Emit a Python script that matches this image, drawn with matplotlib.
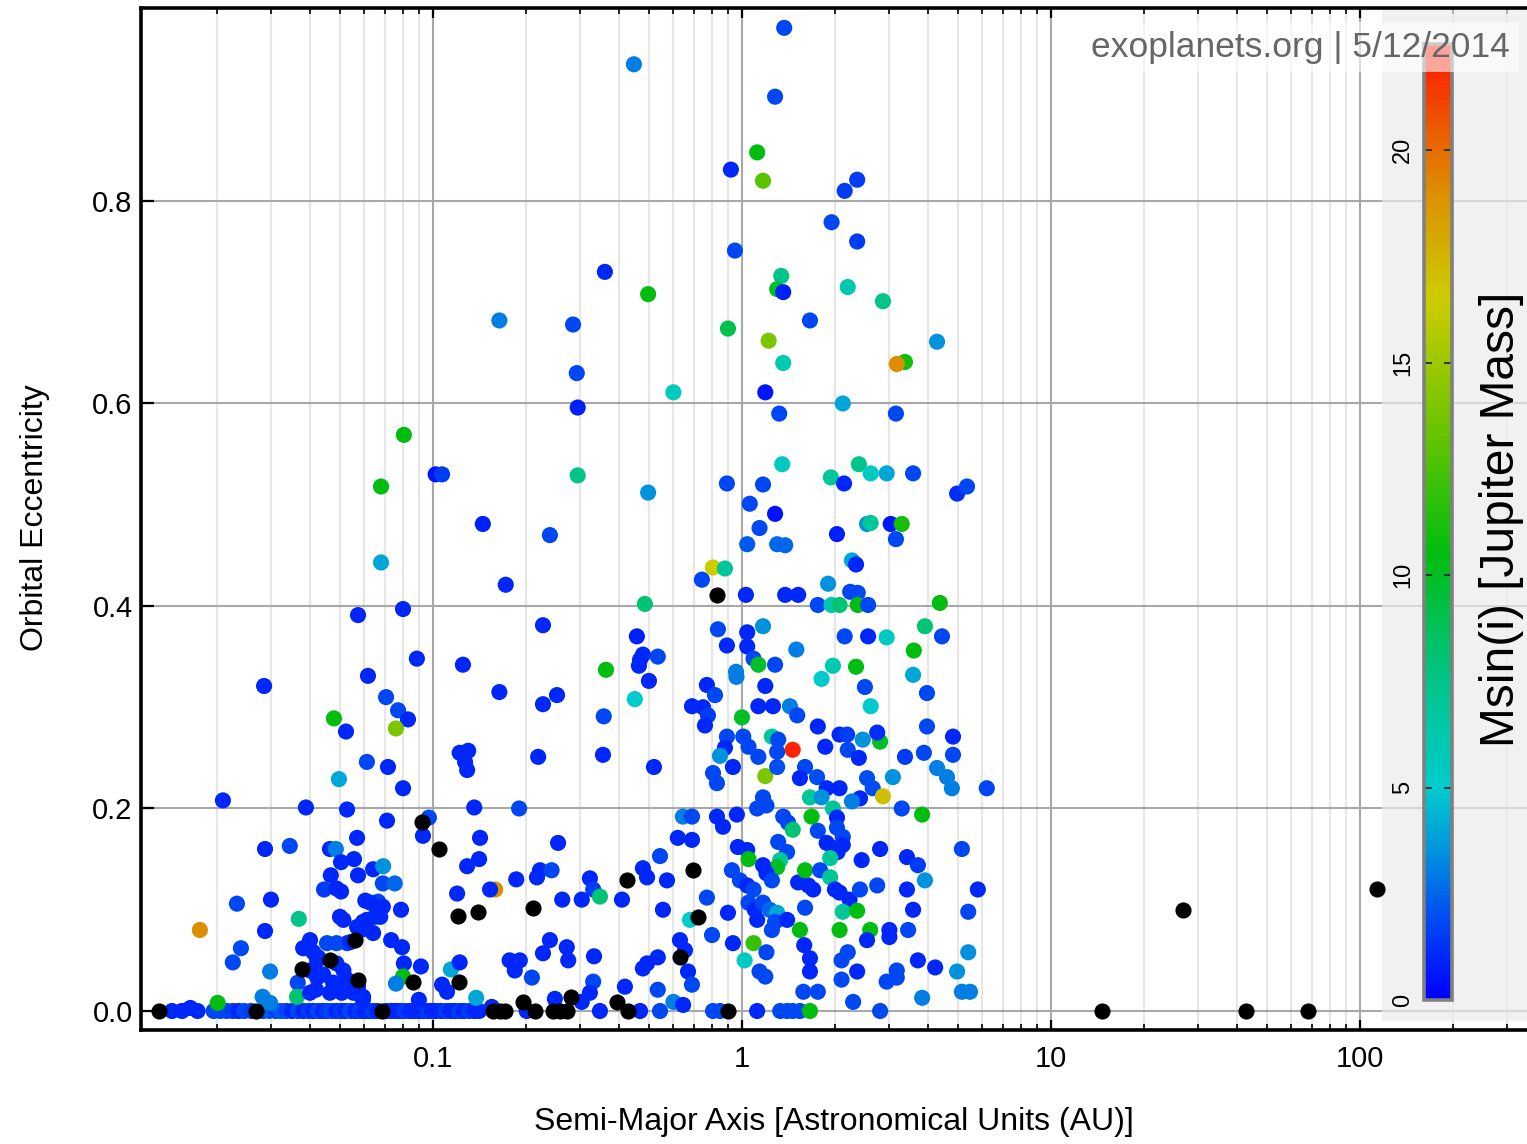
import numpy as np
import matplotlib
matplotlib.use("Agg")
import matplotlib.pyplot as plt
from matplotlib.colors import LinearSegmentedColormap, Normalize
from matplotlib.ticker import FixedLocator, LogLocator, NullFormatter, FixedFormatter
from matplotlib.patches import Rectangle

plt.rcParams['font.family'] = ['Liberation Sans', 'DejaVu Sans']

nan = float('nan')

# ---- planets with e >= ~0.44 -------------------------------------------
a_high = [1.37, 0.447, 1.28, 1.12, 0.921, 1.17, 2.36, 2.15, 1.95, 2.36,
          0.949, 0.360, 1.34, 1.30, 1.36, 0.497, 2.20, 2.86, 0.164, 0.284,
          1.66, 0.901, 1.22, 4.28, 1.36, 3.37, 3.17, 0.292, 0.600, 1.19,
          0.294, 1.32, 2.12, 3.15, 1.35, 0.294, 0.497, 0.894, 1.17, 1.06,
          1.28, 1.14, 1.04, 1.30, 1.38, 0.239, 1.94, 2.14, 2.39, 2.61,
          2.94, 3.58, 4.97, 5.35, 2.03, 2.54, 2.61, 3.03, 3.29, 3.15,
          2.27, 2.34, 0.805, 0.881, 0.0805, 0.102, 0.107, 0.0679, 0.145, 0.0679]
e_high = [0.971, 0.935, 0.903, 0.848, 0.831, 0.820, 0.821, 0.810, 0.779, 0.760,
          0.751, 0.730, 0.726, 0.713, 0.710, 0.708, 0.715, 0.701, 0.682, 0.678,
          0.682, 0.674, 0.662, 0.661, 0.640, 0.641, 0.639, 0.630, 0.611, 0.611,
          0.596, 0.590, 0.600, 0.590, 0.540, 0.529, 0.512, 0.521, 0.520, 0.501,
          0.491, 0.477, 0.461, 0.461, 0.460, 0.470, 0.527, 0.521, 0.540, 0.531,
          0.531, 0.531, 0.511, 0.518, 0.471, 0.481, 0.482, 0.481, 0.481, 0.466,
          0.445, 0.441, 0.438, 0.437, 0.569, 0.530, 0.530, 0.518, 0.481, 0.443]
m_high = [1.8, 3.0, 1.8, 10.5, 1.0, 13.0, 1.5, 1.5, 1.8, 1.5,
          1.8, 1.0, 7.5, 10.0, 0.8, 10.5, 6.0, 7.5, 3.0, 1.8,
          1.8, 9.0, 14.0, 3.5, 6.0, 11.0, 19.0, 1.8, 5.5, 0.6,
          0.8, 1.8, 4.0, 1.8, 5.5, 7.5, 3.5, 1.8, 1.8, 1.8,
          0.5, 1.8, 2.2, 2.5, 2.5, 1.8, 7.0, 1.0, 7.5, 5.5,
          4.0, 1.8, 1.2, 1.8, 0.8, 3.5, 7.0, 0.7, 11.0, 1.8,
          4.0, 1.0, 16.5, 7.0, 10.5, 0.6, 1.5, 10.5, 0.8, 4.0]

# ---- short-period planets (a < ~0.2 AU), eccentric -----------------------
a_inner = [0.172, 0.0572, 0.080, 0.0887, 0.125, 0.0284, 0.0616, 0.164, 0.0705, 0.0771,
           0.083, 0.0478, 0.0759, 0.0523, 0.122, 0.130, 0.127, 0.129, 0.0611, 0.0715,
           0.0496, 0.080, 0.0209, 0.0388, 0.0527, 0.136, 0.0710, 0.092, 0.097, 0.0928,
           0.0568, 0.142, 0.1045, 0.0286, 0.0344, 0.0464, 0.0485, 0.0555, 0.141, 0.0504,
           0.129, 0.064, 0.069, 0.0467, 0.0572, 0.0444, 0.0487, 0.0504, 0.0688, 0.0752,
           0.1197, 0.159, 0.153, 0.0232, 0.0299, 0.0604, 0.0664, 0.0688, 0.0627, 0.0788,
           0.1205, 0.140, 0.0368, 0.0176, 0.0286, 0.050, 0.0513, 0.0568, 0.0594, 0.0611,
           0.0648, 0.064, 0.0732, 0.0794, 0.040, 0.038, 0.041, 0.0454, 0.0487, 0.0527,
           0.054, 0.056, 0.0239, 0.0225, 0.0297, 0.0464, 0.0377, 0.0422, 0.040, 0.0441,
           0.0487, 0.0513, 0.0527, 0.0805, 0.0914, 0.0572, 0.0572, 0.0594, 0.080, 0.0759,
           0.086, 0.1143, 0.122, 0.121, 0.107, 0.111, 0.0365, 0.0363, 0.0281, 0.0297,
           0.040, 0.0418, 0.0464, 0.0487, 0.0507, 0.0201, 0.090, 0.138, 0.155, 0.0675,
           0.0585, 0.0425, 0.0422, 0.0475, 0.0553, 0.0593]
e_inner = [0.421, 0.391, 0.397, 0.348, 0.342, 0.321, 0.331, 0.315, 0.310, 0.297,
           0.288, 0.289, 0.279, 0.276, 0.255, 0.257, 0.246, 0.238, 0.246, 0.241,
           0.229, 0.220, 0.208, 0.201, 0.199, 0.201, 0.188, 0.187, 0.191, 0.173,
           0.171, 0.171, 0.160, 0.160, 0.163, 0.160, 0.160, 0.150, 0.150, 0.147,
           0.143, 0.140, 0.143, 0.134, 0.134, 0.120, 0.121, 0.118, 0.126, 0.126,
           0.116, 0.120, 0.120, 0.106, 0.110, 0.109, 0.108, 0.103, 0.107, 0.100,
           0.094, 0.098, 0.091, 0.080, 0.079, 0.093, 0.090, 0.083, 0.088, 0.090,
           0.093, 0.077, 0.070, 0.063, 0.070, 0.062, 0.058, 0.067, 0.067, 0.067,
           0.068, 0.070, 0.062, 0.048, 0.039, 0.050, 0.041, 0.050, 0.040, 0.036,
           0.047, 0.040, 0.031, 0.047, 0.044, 0.031, 0.024, 0.014, 0.034, 0.027,
           0.029, 0.041, 0.048, 0.029, 0.026, 0.019, 0.028, 0.014, 0.014, 0.008,
           0.018, 0.021, 0.018, 0.021, 0.018, 0.008, 0.011, 0.013, 0.004, 0.093,
           0.080, 0.053, 0.033, 0.028, 0.018, 0.011]
m_inner = [1.0, 1.0, 1.0, 1.0, 1.0, 1.0, 1.0, 1.0, 1.8, 1.8,
           1.0, 10.5, 14.0, 1.0, 1.0, 1.0, 1.0, 1.0, 1.8, 1.0,
           4.0, 1.0, 1.0, 1.0, 1.0, 1.0, 1.0, nan, 1.8, 1.0,
           1.0, 1.0, nan, 1.0, 1.8, 1.0, 3.0, 1.0, 1.0, 1.0,
           1.0, 1.0, 3.5, 1.0, 1.0, 1.5, 1.0, 1.0, 1.8, 2.5,
           1.0, 19.0, 1.0, 1.8, 1.0, 1.0, 1.8, 1.0, 1.0, 1.0,
           nan, nan, 7.5, 19.0, 1.0, 1.0, 1.0, 1.0, 1.0, 1.0,
           1.0, 1.0, 1.0, 1.0, 1.0, 1.0, 1.0, 1.8, 1.8, 1.8,
           1.0, nan, 1.8, 1.8, 3.0, nan, nan, 1.0, 1.0, 1.0,
           1.0, 1.0, 1.0, 1.0, 1.0, nan, 1.0, 1.0, 10.5, 3.0,
           nan, 4.0, 1.0, nan, 1.0, 1.0, 1.8, 8.0, 3.0, 3.0,
           1.0, 1.0, 1.0, 1.0, 1.0, 10.5, 1.0, 4.0, 1.0, 1.0,
           1.0, 1.0, 1.0, 1.0, 1.0, 1.0]

# ---- planets beyond ~0.17 AU with e < ~0.43 -----------------------------
a_outer = [0.742, 0.830, 1.03, 1.38, 1.52, 2.24, 2.37, 0.485, 1.76, 1.95,
           2.07, 2.37, 2.56, 4.37, 1.90, 0.227, 0.457, 0.836, 1.04, 1.04,
           1.17, 0.894, 2.15, 2.56, 2.94, 3.91, 4.44, 3.60, 0.478, 0.468,
           0.534, 0.464, 0.363, 1.50, 1.09, 1.13, 1.28, 0.957, 0.960, 1.97,
           2.34, 1.81, 3.58, 2.50, 2.61, 3.97, 0.500, 0.252, 0.227, 0.450,
           0.357, 0.770, 0.818, 1.19, 0.689, 0.748, 0.776, 0.759, 1.13, 1.26,
           1.43, 1.51, 1.00, 1.76, 2.07, 2.19, 2.46, 2.80, 2.74, 3.97,
           4.82, 4.82, 3.88, 3.37, 0.894, 1.01, 0.881, 1.05, 0.849, 1.13,
           1.25, 1.31, 1.30, 1.46, 1.86, 2.20, 2.39, 0.219, 0.355, 0.519,
           0.935, 0.806, 0.830, 1.19, 1.30, 1.60, 1.54, 1.75, 1.88, 2.07,
           2.54, 2.65, 2.41, 3.08, 2.86, 4.28, 4.61, 4.78, 6.20, 1.66,
           1.81, 1.17, 1.12, 1.20, 1.97, 2.27, 3.29, 3.83, 1.68, 0.190,
           0.644, 0.689, 0.830, 0.868, 0.963, 1.36, 1.41, 1.46, 2.03, 2.03,
           2.12, 1.76, 0.620, 0.689, 0.254, 1.31, 1.40, 1.88, 1.97, 2.12,
           2.04, 2.80, 5.15, 0.970, 1.04, 1.05, 1.33, 1.30, 1.93, 2.44,
           3.42, 3.71, 0.543, 0.694, 0.424, 0.211, 0.630, 0.720, 0.222, 0.217,
           0.242, 0.186, 0.322, 0.330, 0.347, 0.262, 0.303, 0.409, 0.478, 0.493,
           0.572, 0.555, 0.770, 0.679, 0.901, 0.928, 0.985, 1.04, 1.09, 1.05,
           1.10, 1.17, 1.20, 1.25, 1.17, 1.23, 1.30, 1.12, 1.28, 1.40,
           1.25, 1.52, 1.64, 1.70, 1.60, 1.79, 1.93, 2.00, 2.07, 2.23,
           2.41, 2.74, 3.42, 5.80, 3.91, 1.60, 2.12, 2.36, 3.58, 5.40,
           1.54, 2.07, 2.60, 2.54, 3.00, 3.00, 3.45, 1.59, 1.66, 1.66,
           1.09, 1.20, 1.02, 1.14, 1.19, 2.20, 2.10, 2.10, 2.36, 2.94,
           3.17, 3.17, 3.71, 4.22, 4.97, 5.40, 0.935, 0.800, 0.630, 0.654,
           0.669, 0.689, 0.534, 0.478, 0.493, 0.534, 0.418, 0.332, 0.330, 0.271,
           0.274, 0.239, 0.227, 0.177, 0.191, 0.184, 0.209, 0.195, 0.280, 0.394,
           0.248, 0.303, 0.322, 0.600, 0.645, 2.29, 3.83, 5.15, 5.47, 1.58,
           1.76, 26.7, 113.5]
e_outer = [0.426, 0.411, 0.411, 0.411, 0.411, 0.414, 0.413, 0.402, 0.401, 0.401,
           0.401, 0.401, 0.401, 0.403, 0.422, 0.381, 0.370, 0.377, 0.374, 0.360,
           0.380, 0.361, 0.370, 0.370, 0.369, 0.380, 0.370, 0.356, 0.352, 0.347,
           0.350, 0.341, 0.337, 0.357, 0.348, 0.342, 0.342, 0.335, 0.330, 0.341,
           0.340, 0.328, 0.332, 0.320, 0.301, 0.314, 0.326, 0.312, 0.303, 0.308,
           0.291, 0.322, 0.312, 0.321, 0.301, 0.300, 0.292, 0.282, 0.301, 0.301,
           0.301, 0.292, 0.290, 0.281, 0.273, 0.273, 0.268, 0.266, 0.275, 0.281,
           0.271, 0.253, 0.255, 0.251, 0.271, 0.271, 0.260, 0.261, 0.252, 0.251,
           0.271, 0.268, 0.256, 0.258, 0.261, 0.258, 0.250, 0.251, 0.253, 0.241,
           0.241, 0.235, 0.225, 0.232, 0.241, 0.241, 0.230, 0.231, 0.220, 0.220,
           0.230, 0.220, 0.210, 0.231, 0.212, 0.240, 0.231, 0.220, 0.220, 0.211,
           0.211, 0.211, 0.200, 0.203, 0.200, 0.207, 0.200, 0.194, 0.192, 0.200,
           0.192, 0.192, 0.192, 0.182, 0.194, 0.192, 0.186, 0.179, 0.191, 0.181,
           0.172, 0.178, 0.171, 0.169, 0.166, 0.167, 0.157, 0.166, 0.161, 0.164,
           0.157, 0.160, 0.160, 0.162, 0.159, 0.150, 0.149, 0.142, 0.151, 0.149,
           0.152, 0.144, 0.153, 0.139, 0.129, 0.102, 0.053, 0.093, 0.139, 0.132,
           0.139, 0.130, 0.131, 0.120, 0.113, 0.110, 0.110, 0.110, 0.141, 0.132,
           0.129, 0.100, 0.112, 0.090, 0.097, 0.139, 0.129, 0.124, 0.120, 0.107,
           0.100, 0.144, 0.136, 0.129, 0.107, 0.100, 0.097, 0.090, 0.088, 0.090,
           0.080, 0.127, 0.124, 0.120, 0.139, 0.139, 0.132, 0.120, 0.117, 0.110,
           0.120, 0.124, 0.120, 0.120, 0.129, 0.102, 0.098, 0.099, 0.100, 0.098,
           0.080, 0.080, 0.080, 0.070, 0.080, 0.073, 0.080, 0.065, 0.052, 0.039,
           0.067, 0.058, 0.050, 0.039, 0.034, 0.058, 0.050, 0.031, 0.039, 0.029,
           0.040, 0.033, 0.050, 0.043, 0.039, 0.058, 0.067, 0.075, 0.070, 0.060,
           0.039, 0.026, 0.021, 0.042, 0.047, 0.053, 0.024, 0.054, 0.029, 0.063,
           0.050, 0.070, 0.057, 0.050, 0.050, 0.040, 0.033, 0.009, 0.014, 0.009,
           0.012, 0.009, 0.018, 0.009, 0.006, 0.009, 0.013, 0.019, 0.019, 0.019,
           0.019, 0.100, 0.120]
m_outer = [1.8, nan, 1.0, 1.0, 1.0, 1.8, 1.8, 8.0, 1.8, 6.0,
           8.0, 10.5, 1.8, 10.5, 3.5, 1.0, 0.8, 1.8, 1.0, 1.0,
           3.5, 1.0, 1.8, 1.0, 5.5, 8.0, 1.8, 10.5, 1.0, 1.0,
           1.8, 1.0, 10.5, 3.0, 1.8, 10.0, 1.8, 3.0, 3.0, 6.0,
           10.5, 5.0, 4.0, 1.8, 5.0, 1.8, 1.0, 1.0, 1.0, 5.0,
           1.8, 1.0, 1.8, 1.0, 1.0, 1.0, 1.5, 1.0, 1.0, 1.0,
           3.0, 1.8, 10.0, 1.0, 1.0, 1.5, 3.5, 10.0, 1.2, 1.8,
           1.0, 1.8, 1.8, 1.5, 1.8, 1.8, 1.0, 1.8, 3.5, 1.8,
           7.0, 1.8, 1.8, 22.0, 1.0, 1.8, 1.0, 1.0, 1.0, 1.0,
           1.0, 1.8, 1.8, 14.0, 2.0, 1.8, 1.0, 2.0, 1.0, 1.0,
           2.0, 2.0, 1.0, 3.5, 17.0, 3.0, 3.0, 3.0, 1.8, 7.0,
           3.5, 1.8, 1.8, 1.8, 7.0, 3.0, 1.8, 10.5, 10.5, 1.8,
           3.0, 1.8, 1.0, 1.0, 1.0, 1.8, 1.8, 8.0, 1.0, 1.8,
           1.8, 1.8, 1.0, 1.0, 1.0, 1.8, 1.8, 1.0, 1.0, 1.0,
           1.0, 1.0, 1.8, 1.0, 1.0, 10.5, 7.0, 10.0, 7.0, 1.0,
           1.0, 1.5, 1.8, nan, nan, nan, nan, nan, 1.0, 1.0,
           1.8, 1.0, 1.0, 1.5, 8.0, 1.0, 1.0, 1.0, 1.0, 1.0,
           1.0, 1.0, 1.8, 5.0, 1.0, 1.8, 1.8, 1.0, 1.8, 1.8,
           1.0, 1.0, 1.0, 1.8, 1.8, 2.5, 4.0, 1.0, 1.8, 1.0,
           1.8, 1.0, 1.0, 1.0, 10.5, 1.8, 7.0, 1.0, 1.0, 1.0,
           1.8, 1.8, 1.0, 1.0, 3.5, 1.8, 7.0, 10.5, 1.0, 1.8,
           10.5, 10.5, 10.5, 1.0, 1.0, 1.0, 1.8, 1.0, 1.0, 1.0,
           12.0, 1.8, 5.5, 1.8, 1.8, 1.8, 1.8, 1.8, 1.0, 1.8,
           1.8, 1.8, 1.0, 1.0, 3.5, 3.5, 1.0, 1.8, 1.0, 1.0,
           1.0, 1.8, 1.8, 1.0, 1.0, 1.0, 1.0, 1.0, 1.8, 1.0,
           1.0, 1.0, 1.0, 1.0, 1.0, 1.0, 1.8, nan, nan, nan,
           1.0, 1.0, 1.0, 3.0, 1.0, 1.8, 3.0, 3.0, 3.0, 1.8,
           1.8, nan, nan]

# ---- circular orbits (e = 0) ---------------------------------------------
a_circ = [0.013, 0.0143, 0.0154, 0.0164, 0.0173, 0.0195, 0.0205, 0.0215, 0.0225, 0.0235,
          0.0245, 0.0258, 0.0267, 0.0282, 0.0295, 0.031, 0.0322, 0.0335, 0.035, 0.0365,
          0.038, 0.0395, 0.041, 0.0425, 0.044, 0.0455, 0.047, 0.0487, 0.0505, 0.052,
          0.054, 0.056, 0.058, 0.060, 0.062, 0.064, 0.066, 0.0684, 0.071, 0.0735,
          0.076, 0.0785, 0.081, 0.084, 0.087, 0.090, 0.093, 0.096, 0.099, 0.102,
          0.106, 0.110, 0.114, 0.118, 0.122, 0.126, 0.131, 0.136, 0.141, 0.156,
          0.165, 0.171, 0.201, 0.214, 0.245, 0.258, 0.271, 0.347, 0.427, 0.468,
          0.543, 0.806, 0.849, 0.901, 1.12, 1.33, 1.40, 1.46, 1.54, 1.66,
          2.80, 14.6, 42.8, 67.9]
e_circ = [0.0, 0.0, 0.0, 0.003, 0.0, 0.0, 0.0, 0.0, 0.0, 0.0,
          0.0, 0.0, 0.0, 0.0, 0.0, 0.0, 0.0, 0.0, 0.0, 0.0,
          0.0, 0.0, 0.0, 0.0, 0.0, 0.0, 0.0, 0.0, 0.0, 0.0,
          0.0, 0.0, 0.0, 0.0, 0.0, 0.0, 0.0, 0.0, 0.0, 0.0,
          0.0, 0.0, 0.0, 0.0, 0.0, 0.0, 0.0, 0.0, 0.0, 0.0,
          0.0, 0.0, 0.0, 0.0, 0.0, 0.0, 0.0, 0.0, 0.0, 0.0,
          0.0, 0.0, 0.0, 0.0, 0.0, 0.0, 0.0, 0.0, 0.0, 0.0,
          0.0, 0.0, 0.0, 0.0, 0.0, 0.0, 0.0, 0.0, 0.0, 0.0,
          0.0, 0.0, 0.0, 0.0]
m_circ = [nan, 1.0, 1.0, 1.0, 1.0, 1.8, 1.8, 1.8, 1.5, 1.0,
          1.8, 1.5, nan, 1.8, 2.2, 1.8, 2.2, 1.8, 1.0, 1.8,
          1.0, 1.5, 1.0, 1.8, 1.0, 1.5, 1.8, 1.0, 1.5, 1.0,
          1.8, 1.0, 1.5, 1.0, 1.0, 1.5, 1.0, nan, 1.0, 1.0,
          1.0, 1.0, 1.5, 1.0, 1.0, 1.0, 1.0, 1.5, 1.0, 1.0,
          1.0, 1.5, 1.0, 1.0, 1.5, 1.0, 1.5, 1.0, 1.0, nan,
          nan, nan, 1.0, nan, nan, nan, nan, 1.0, nan, 1.0,
          1.8, 1.8, 1.8, nan, 1.0, 1.8, 1.8, 1.8, 1.8, 10.5,
          1.8, nan, nan, nan]

mass_ticks = [0, 5, 10, 15, 20]
x_ticks = [0.1, 1, 10, 100]
x_tick_labels = ['0.1', '1', '10', '100']
y_ticks = [0.0, 0.2, 0.4, 0.6, 0.8]
y_tick_labels = ['0.0', '0.2', '0.4', '0.6', '0.8']

a_all = np.concatenate([a_circ, a_inner, a_outer, a_high])
e_all = np.concatenate([e_circ, e_inner, e_outer, e_high])
m_all = np.concatenate([m_circ, m_inner, m_outer, m_high])
known = np.isfinite(m_all)

cmap = LinearSegmentedColormap.from_list('msini', [
    (0.0, '#0000ff'), (2.0 / 22.5, '#0050f2'), (3.5 / 22.5, '#0095dc'),
    (5.0 / 22.5, '#00cccc'), (7.5 / 22.5, '#00c48a'), (10.5 / 22.5, '#00bd10'),
    (13.5 / 22.5, '#6cc400'), (16.5 / 22.5, '#cccc00'), (19.0 / 22.5, '#dc9000'),
    (21.0 / 22.5, '#ef4a00'), (1.0, '#ff1400')])
norm = Normalize(vmin=0.0, vmax=22.5)

W, H = 1527, 1144
fig = plt.figure(figsize=(W / 100, H / 100), dpi=100)
fig.patch.set_facecolor('white')

ax = fig.add_axes([141 / W, (H - 1030) / H, (1532 - 141) / W, (1030 - 8) / H])
ax.set_xscale('log')
ax.set_xlim(10 ** -1.945, 10 ** 2.557)
ax.set_ylim(-0.01877, 0.9906)

ax.set_axisbelow(True)
ax.xaxis.set_major_locator(FixedLocator(x_ticks))
ax.xaxis.set_major_formatter(FixedFormatter(x_tick_labels))
ax.xaxis.set_minor_locator(LogLocator(base=10, subs=np.arange(2, 10)))
ax.xaxis.set_minor_formatter(NullFormatter())
ax.yaxis.set_major_locator(FixedLocator(y_ticks))
ax.yaxis.set_major_formatter(FixedFormatter(y_tick_labels))

ax.grid(which='major', color='#a8a8a8', lw=1.5)
ax.grid(which='minor', axis='x', color='#e6e6e6', lw=1.5)

for sp in ax.spines.values():
    sp.set_linewidth(2.6)
    sp.set_color('black')

ax.tick_params(axis='y', which='major', direction='in', length=9.5, width=1.6,
               left=True, right=False, labelsize=21, pad=6)
ax.tick_params(axis='x', which='major', direction='in', length=7, width=1.6,
               top=True, bottom=True, labelsize=21, pad=11)
ax.tick_params(axis='x', which='minor', direction='in', length=4.5, width=1.2,
               top=True, bottom=True)

# shaded panel behind the colour scale
ax.add_patch(Rectangle((1382 / W, (H - 1021) / H), 1 - 1382 / W, (1021 - 10) / H,
                       transform=fig.transFigure, facecolor='#ececec', alpha=0.7,
                       edgecolor='none', zorder=2.5))

sc = ax.scatter(a_all[known], e_all[known], c=m_all[known], cmap=cmap, norm=norm,
                s=135, linewidths=0, zorder=3)
ax.scatter(a_all[~known], e_all[~known], color='black', s=135, linewidths=0, zorder=3.2)

fig.text(35 / W, 1 - 518 / H, 'Orbital Eccentricity', rotation=90,
         ha='center', va='center', fontsize=23)
fig.text(834 / W, 1 - 1122 / H, 'Semi-Major Axis [Astronomical Units (AU)]',
         ha='center', va='center', fontsize=23)

# colour scale
cax = fig.add_axes([1424 / W, (H - 1000) / H, 28 / W, (1000 - 44) / H])
cb = fig.colorbar(sc, cax=cax)
cb.set_ticks(mass_ticks)
cb.outline.set_edgecolor('#808080')
cb.outline.set_linewidth(2.6)
cax.tick_params(axis='y', direction='in', length=6, width=1.4, color='#333333',
                left=True, right=True, labelleft=True, labelright=False,
                labelsize=17, pad=7, labelrotation=90)
for lbl in cax.get_yticklabels():
    lbl.set_verticalalignment('center')
    lbl.set_horizontalalignment('right')
fig.text(1502 / W, 1 - 519 / H, 'Msin(i) [Jupiter Mass]', rotation=90,
         ha='center', va='center', fontsize=34.5)

fig.text(1510 / W, 1 - 47 / H, 'exoplanets.org | 5/12/2014', ha='right', va='center',
         fontsize=25.5, color='#666666',
         bbox=dict(boxstyle='square,pad=0.25', facecolor='white', edgecolor='none',
                   alpha=0.6))

fig.savefig('out.png', dpi=100)
